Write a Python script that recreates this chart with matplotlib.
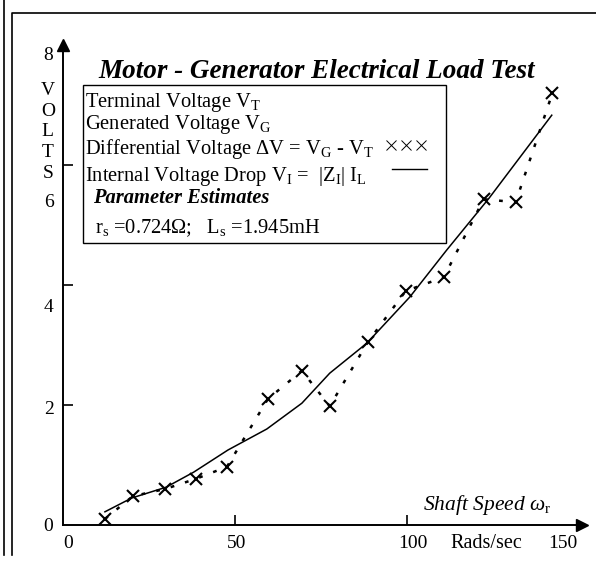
import matplotlib
matplotlib.use("Agg")
import matplotlib.pyplot as plt
from matplotlib.lines import Line2D
from matplotlib.patches import Rectangle

plt.rcParams['font.family'] = ['Liberation Serif', 'DejaVu Serif']
plt.rcParams['mathtext.fontset'] = 'custom'
plt.rcParams['mathtext.rm'] = 'Liberation Serif'
plt.rcParams['mathtext.it'] = 'Liberation Serif:italic'

# measured points (differential voltage) and fitted internal drop
speed = [12.2, 20.3, 29.7, 38.7, 47.7, 59.6, 69.5, 77.6, 88.7, 99.7, 110.8, 122.4, 131.7, 142.4]
dv = [0.10, 0.48, 0.60, 0.77, 0.97, 2.10, 2.57, 1.98, 3.05, 3.90, 4.13, 5.43, 5.38, 7.20]
speed_fit = [12.2, 20.0, 30.0, 38.0, 48.0, 59.3, 69.5, 77.6, 88.4, 100.9, 111.6, 124.0, 142.2]
vi = [0.22, 0.45, 0.63, 0.88, 1.25, 1.60, 2.03, 2.53, 3.03, 3.80, 4.58, 5.45, 6.83]

yticks = [2, 4, 6]
ytick_labels = ["0", "2", "4", "6", "8"]
ytick_label_pos = [-0.03, 1.93, 3.63, 5.37, 7.83]
xticks = [50, 100]
xtick_labels = ["0", "50", "100", "150"]
xtick_label_pos = [1.5, 50.6, 101.7, 145.3]

legend_lines = ["Terminal Voltage V$_\\mathrm{T}$",
                "Generated Voltage V$_\\mathrm{G}$",
                "Differential Voltage ΔV = V$_\\mathrm{G}$ - V$_\\mathrm{T}$",
                "Internal Voltage Drop V$_\\mathrm{I}$ =  |Z$_\\mathrm{I}$| I$_\\mathrm{L}$"]
param_title = "Parameter Estimates"
param_text = "r$_\\mathrm{s}$ =0.724Ω;   L$_\\mathrm{s}$ =1.945mH"

fig = plt.figure(figsize=(5.96, 5.62), dpi=100)
ax = fig.add_axes([63/596, 37/562, 519/596, 480/562])
ax.set_xlim(0, 151)
ax.set_ylim(0, 8)

for s in ['top', 'right']:
    ax.spines[s].set_visible(False)
for s in ['left', 'bottom']:
    ax.spines[s].set_linewidth(1.4)
ax.plot(0, 1, '^k', ms=8, transform=ax.transAxes, clip_on=False)
ax.plot(1, 0, '>k', ms=8, transform=ax.transAxes, clip_on=False)

ax.set_xticks(xticks)
ax.set_yticks(yticks)
ax.tick_params(direction='in', length=7, width=1.2, labelbottom=False, labelleft=False)

for lab, p in zip(ytick_labels, ytick_label_pos):
    ax.text(-4.2, p, lab, fontsize=14, ha='center', va='center', clip_on=False)
for lab, p in zip(xtick_labels, xtick_label_pos):
    ax.text(p, -0.3, lab, fontsize=14, ha='center', va='center', clip_on=False)
ax.text(123.3, -0.3, "Rads/sec", fontsize=14.5, ha='center', va='center')
ax.text(123.4, 0.33, r"Shaft Speed ω$_\mathrm{r}$", fontsize=15.5, style='italic', ha='center', va='center')
ax.text(-4.4, 6.55, "V\nO\nL\nT\nS", fontsize=14, ha='center', va='center', linespacing=1.3)

ax.plot(speed, dv, color='k', lw=1.8, ls=(0, (1.5, 4.5)), marker='x', ms=8, mew=1.5)
ax.plot(speed_fit, vi, color='k', lw=1.1)

fig.text(317/596, 1-78/562, "Motor - Generator Electrical Load Test", fontsize=19.5,
         weight='bold', style='italic', ha='center', va='baseline')

# legend box drawn by hand (text left aligned, keys on the right)
fig.add_artist(Rectangle((83/596, 1-243/562), 363/596, 158/562, fill=False, ec='k', lw=1.0,
                         transform=fig.transFigure))
for i, line in enumerate(legend_lines):
    fig.text(85/596, 1-(107 + [0, 22, 47, 74][i])/562, line, fontsize=14.8, va='baseline')
fig.text(93/596, 1-203/562, param_title, fontsize=14.8, weight='bold', style='italic', va='baseline')
fig.text(95/596, 1-233/562, param_text, fontsize=14.8, va='baseline')

cross = Line2D([], [], ls='none', marker='x', ms=7, mew=0.7, color='k')
solid = Line2D([], [], ls='-', lw=1.0, color='k')
for h, x0, yk, hl in [(cross, 385, 148, 2.1), (solid, 386, 172, 2.35)]:
    fig.legend([h], [''], loc='center left', bbox_to_anchor=(x0/596, 1-yk/562), frameon=False,
               borderpad=0, borderaxespad=0, handletextpad=0, numpoints=3, handlelength=hl,
               fontsize=14.5)

# page frame lines
fig.add_artist(Line2D([4/596, 4/596], [1, 1-555/562], color='k', lw=1.2, transform=fig.transFigure))
fig.add_artist(Line2D([12/596, 12/596, 1], [1-555/562, 1-13/562, 1-13/562], color='k', lw=1.2,
                      transform=fig.transFigure))

fig.savefig("out.png", dpi=100)
